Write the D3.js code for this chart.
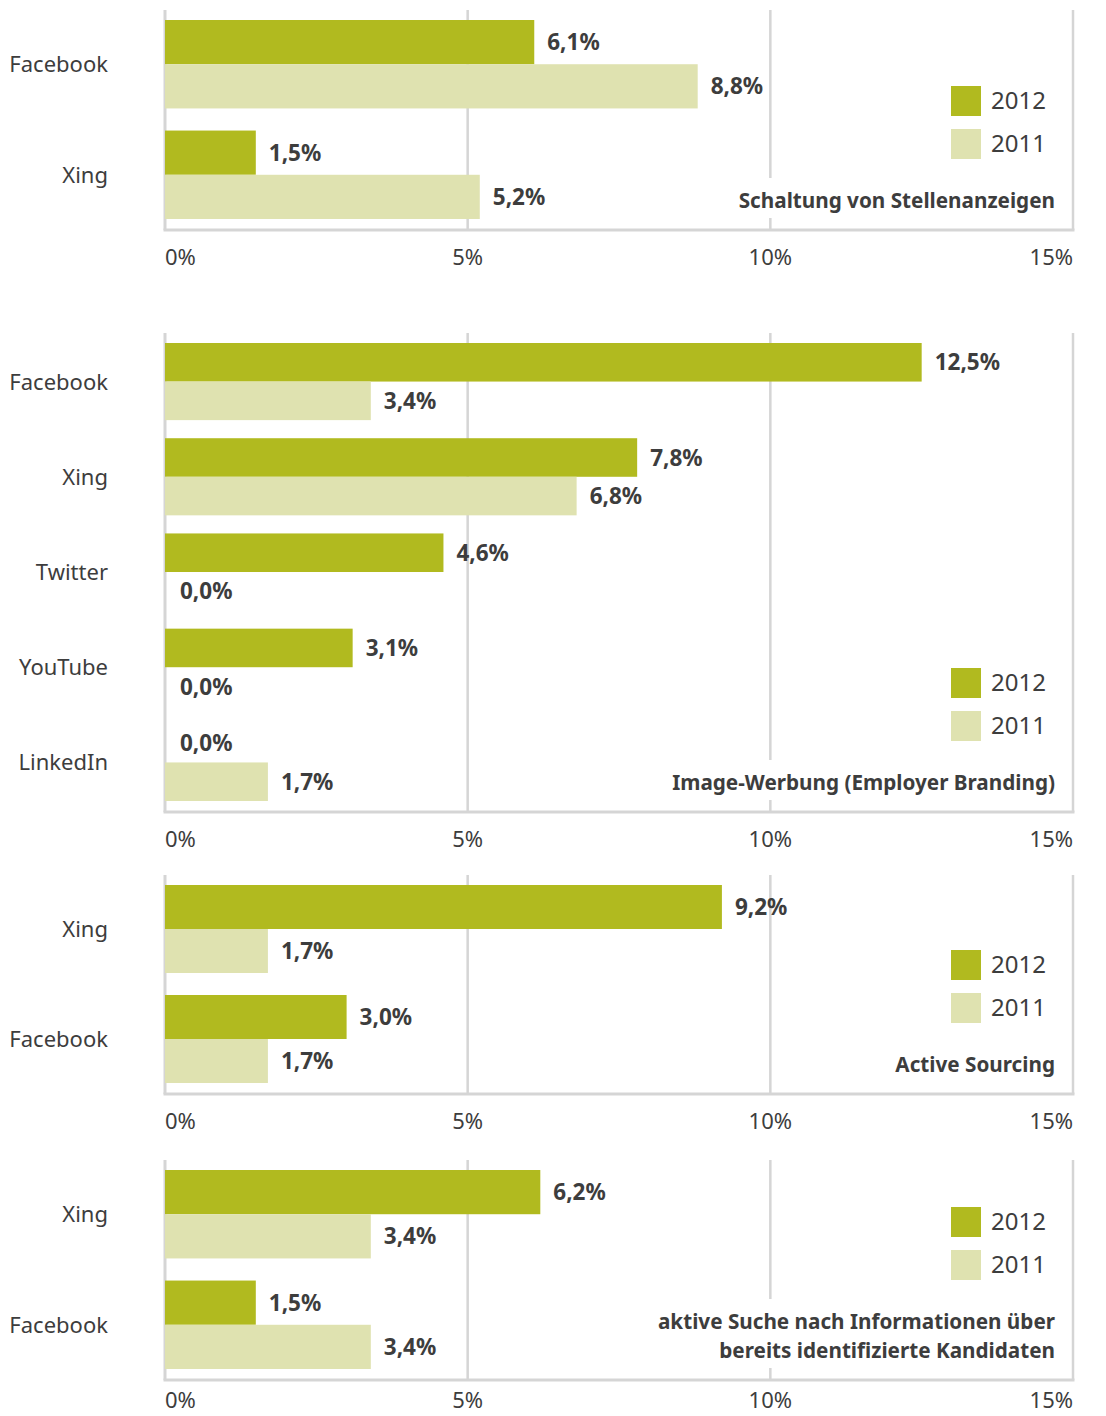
<!DOCTYPE html>
<html lang="de">
	<head>
		<meta charset="utf-8">
		<title>Social Media Recruiting 2011 / 2012</title>
		<script type="text/javascript" src="https://cdn.jsdelivr.net/npm/d3@7"></script>
		<style type="text/css">
			body { margin: 0; background: #fff; }
			text { font-family: "Noto Sans", "DejaVu Sans", sans-serif; fill: #3d3d3d; }
		</style>
	</head>
	<body>
		<script type="text/javascript">
			//Data, one set of arrays per panel
			var years = ["2012", "2011"];
			var ticks = [0, 5, 10, 15];

			var cats1 = ["Facebook", "Xing"];
			var v2012_1 = [6.1, 1.5];
			var v2011_1 = [8.8, 5.2];
			var title1 = ["Schaltung von Stellenanzeigen"];

			var cats2 = ["Facebook", "Xing", "Twitter", "YouTube", "LinkedIn"];
			var v2012_2 = [12.5, 7.8, 4.6, 3.1, 0.0];
			var v2011_2 = [3.4, 6.8, 0.0, 0.0, 1.7];
			var title2 = ["Image-Werbung (Employer Branding)"];

			var cats3 = ["Xing", "Facebook"];
			var v2012_3 = [9.2, 3.0];
			var v2011_3 = [1.7, 1.7];
			var title3 = ["Active Sourcing"];

			var cats4 = ["Xing", "Facebook"];
			var v2012_4 = [6.2, 1.5];
			var v2011_4 = [3.4, 3.4];
			var title4 = ["aktive Suche nach Informationen über", "bereits identifizierte Kandidaten"];

			//Layout
			var w = 1106;
			var h = 1416;
			var colors = { "2012": "#b1ba1f", "2011": "#dfe2b0" };
			var grid = "#d5d5d5";

			var x = d3.scaleLinear()
						.domain([0, 15])
						.range([165, 1073]);

			var panels = [
				{ cats: cats1, a: v2012_1, b: v2011_1, title: title1, y0: 20, y1: 219, pad: 0.2 },
				{ cats: cats2, a: v2012_2, b: v2011_2, title: title2, y0: 343, y1: 801, pad: 0.19 },
				{ cats: cats3, a: v2012_3, b: v2011_3, title: title3, y0: 885, y1: 1083, pad: 0.2 },
				{ cats: cats4, a: v2012_4, b: v2011_4, title: title4, y0: 1170, y1: 1369, pad: 0.2 }
			];

			var fmt = function(v) { return d3.format(".1f")(v).replace(".", ",") + "%"; };

			//Create SVG element
			var svg = d3.select("body")
						.append("svg")
						.attr("width", w)
						.attr("height", h);

			panels.forEach(function(p) {
				var g = svg.append("g");
				var axisY = p.y1 + 11;
				var topY = p.y0 - 10;

				var y = d3.scaleBand()
							.domain(p.cats)
							.range([p.y0, p.y1])
							.paddingInner(p.pad);

				var ySub = d3.scaleBand()
							.domain(years)
							.range([0, y.bandwidth()]);

				//Gridlines
				g.selectAll("line.grid")
				 .data(ticks)
				 .enter()
				 .append("line")
				 .attr("x1", function(d) { return x(d); })
				 .attr("x2", function(d) { return x(d); })
				 .attr("y1", topY)
				 .attr("y2", axisY)
				 .style("stroke", grid)
				 .style("stroke-width", function(d, i) { return i == 0 ? 3 : 2.5; });

				g.append("line")
				 .attr("x1", x(0) - 1.5)
				 .attr("x2", x(15) + 1.5)
				 .attr("y1", axisY)
				 .attr("y2", axisY)
				 .style("stroke", grid)
				 .style("stroke-width", 3);

				//Tick labels (kept inside the page at the bottom)
				g.selectAll("text.tick")
				 .data(ticks)
				 .enter()
				 .append("text")
				 .attr("x", function(d) { return x(d); })
				 .attr("y", Math.min(axisY + 35, h - 8))
				 .attr("text-anchor", function(d, i) { return i == 0 ? "start" : (i == ticks.length - 1 ? "end" : "middle"); })
				 .style("font-size", "22px")
				 .text(function(d) { return d + "%"; });

				//Title with white backing so the gridline breaks
				var tg = g.append("g");
				var lastBase = axisY - 22;
				var lineH = 29;
				tg.selectAll("text")
				  .data(p.title)
				  .enter()
				  .append("text")
				  .attr("x", 1055)
				  .attr("y", function(d, i) { return lastBase - (p.title.length - 1 - i) * lineH; })
				  .attr("text-anchor", "end")
				  .style("font-size", "20.7px")
				  .style("font-weight", "bold")
				  .text(function(d) { return d; });
				var bb = tg.node().getBBox();
				tg.insert("rect", "text")
				  .attr("x", bb.x - 8)
				  .attr("y", bb.y - 8)
				  .attr("width", bb.width + 16)
				  .attr("height", bb.height + 12)
				  .style("fill", "#fff");

				//Legend
				var firstBase = lastBase - (p.title.length - 1) * lineH;
				var lg = g.selectAll("g.legend")
						  .data(years)
						  .enter()
						  .append("g")
						  .attr("transform", function(d, i) { return "translate(951," + (firstBase - 122 + i * 43) + ")"; });
				lg.append("rect")
				  .attr("width", 30)
				  .attr("height", 30)
				  .style("fill", function(d) { return colors[d]; });
				lg.append("text")
				  .attr("x", 40)
				  .attr("y", 23)
				  .style("font-size", "24px")
				  .text(function(d) { return d; });

				//Bars
				var rows = [];
				p.cats.forEach(function(c, i) {
					rows.push({ cat: c, year: "2012", v: p.a[i] });
					rows.push({ cat: c, year: "2011", v: p.b[i] });
				});

				g.selectAll("rect.bar")
				 .data(rows)
				 .enter()
				 .append("rect")
				 .attr("x", x(0))
				 .attr("y", function(d) { return y(d.cat) + ySub(d.year); })
				 .attr("width", function(d) { return x(d.v) - x(0); })
				 .attr("height", ySub.bandwidth())
				 .style("fill", function(d) { return colors[d.year]; });

				g.selectAll("text.val")
				 .data(rows)
				 .enter()
				 .append("text")
				 .attr("x", function(d) { return d.v == 0 ? x(0) + 15 : x(d.v) + 13; })
				 .attr("y", function(d) { return y(d.cat) + ySub(d.year) + ySub.bandwidth() / 2 + 8; })
				 .style("font-size", "22.5px")
				 .style("font-weight", "bold")
				 .text(function(d) { return fmt(d.v); });

				//Category labels
				g.selectAll("text.cat")
				 .data(p.cats)
				 .enter()
				 .append("text")
				 .attr("x", 108)
				 .attr("y", function(d) { return y(d) + y.bandwidth() / 2 + 8; })
				 .attr("text-anchor", "end")
				 .style("font-size", "22px")
				 .text(function(d) { return d; });
			});

		</script>
	</body>
</html>
